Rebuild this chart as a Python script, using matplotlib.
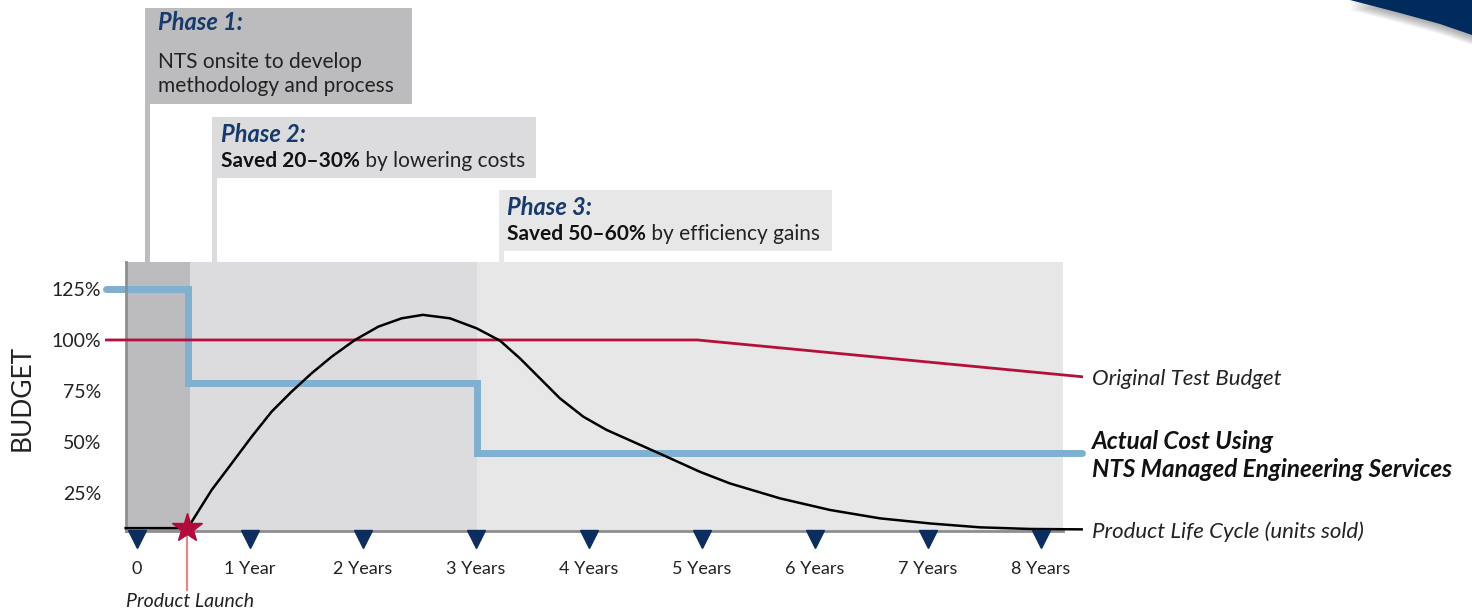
import matplotlib.pyplot as plt
from matplotlib.patches import Rectangle, Polygon

plt.rcParams['font.family'] = ['Lato', 'DejaVu Sans']

# --- data ---
years = [0, 1, 2, 3, 4, 5, 6, 7, 8]
year_labels = ['0', '1 Year', '2 Years', '3 Years', '4 Years',
               '5 Years', '6 Years', '7 Years', '8 Years']
budget_ticks = [25, 50, 75, 100, 125]
budget_labels = ['25%', '50%', '75%', '100%', '125%']

launch_year = 0.44
phase_edges = [-0.1, 0.47, 3.01, 8.2]

# actual cost using NTS (step line)
actual_x = [-0.27, 0.45, 0.45, 3.01, 3.01, 8.36]
actual_y = [125, 125, 79, 79, 44.4, 44.4]

# original test budget
budget_x = [-0.27, 4.96, 8.36]
budget_y = [100, 100, 82]

# product life cycle (units sold)
life_x = [-0.1, 0.44, 0.484, 0.661, 0.838, 1.015, 1.192, 1.369, 1.546, 1.723,
          1.929, 2.135, 2.342, 2.53, 2.77, 3.006, 3.212, 3.389, 3.566, 3.743,
          3.95, 4.157, 4.392, 4.687, 4.982, 5.248, 5.69, 6.133, 6.575, 7.018,
          7.46, 7.903, 8.36]
life_y = [7.8, 7.8, 10.9, 26.5, 39.5, 52.6, 64.9, 74.7, 83.7, 91.8,
          100, 106.5, 110.6, 112.3, 110.6, 105.7, 99.7, 91.0, 81.2, 71.4,
          62.4, 55.9, 50.1, 42.8, 35.4, 29.7, 22.4, 16.7, 12.6, 10.1,
          8.2, 7.4, 7.2]

phase_colors = ['#bcbcbe', '#dcdcde', '#e7e7e7']

W, H = 1472, 616
fig = plt.figure(figsize=(W / 100, H / 100), dpi=100)
ax = fig.add_axes([126 / W, 1 - 531 / H, (1063 - 126) / W, (531 - 262) / H])


def px(x, y):
    return (x / W, 1 - y / H)


# phase backgrounds
for i, c in enumerate(phase_colors):
    ax.axvspan(phase_edges[i], phase_edges[i + 1], color=c, lw=0, zorder=0)

ax.set_xlim(-0.097, 8.195)
ax.set_ylim(6.4, 138.2)

ax.plot(budget_x, budget_y, color='#b5103c', lw=2, clip_on=False, zorder=3)
ax.plot(life_x, life_y, color='black', lw=1.8, clip_on=False, zorder=4,
        solid_joinstyle='round')
ax.plot(actual_x, actual_y, color='#7fb0d0', lw=5, clip_on=False, zorder=2,
        solid_capstyle='round', solid_joinstyle='miter')

# launch marker
ax.plot([launch_year, launch_year], [7.6, -22.5], color='#e08a8a', lw=1.6,
        clip_on=False, zorder=5)
ax.plot([launch_year], [7.8], marker='*', ms=22, color='#b00b3b',
        mec='#b00b3b', clip_on=False, zorder=6)
ax.text(launch_year + 0.03, -27.9, 'Product Launch', style='italic',
        fontsize=14, ha='center', va='center', color='#222222')

# year triangles
ax.plot(years, [2.4] * len(years), ls='none', marker='v', ms=13,
        color='#0c2d5e', clip_on=False, zorder=5)

ax.set_xticks(years)
ax.set_xticklabels(year_labels, fontsize=13, color='#222222')
ax.set_yticks(budget_ticks)
ax.set_yticklabels(budget_labels, fontsize=14, color='#222222')
ax.tick_params(axis='x', length=0, pad=21.5)
ax.tick_params(axis='y', length=0, pad=18)
for s in ['top', 'right']:
    ax.spines[s].set_visible(False)
for s in ['left', 'bottom']:
    ax.spines[s].set_color('#8e8e90')
    ax.spines[s].set_linewidth(2)

fig.text(*px(22, 398), 'BUDGET', rotation=90, fontsize=19, ha='center',
         va='center', color='#222222')

# right-hand series labels
lx = 8.45
ax.text(lx, budget_y[-1] - 1, 'Original Test Budget', style='italic',
        fontsize=16, va='center', color='#222222', clip_on=False)
ax.text(lx, actual_y[-1] - 1, 'Actual Cost Using\nNTS Managed Engineering Services',
        style='italic', weight='bold', fontsize=17.5, va='center',
        linespacing=1.3, color='#111111', clip_on=False)
ax.text(lx, life_y[-1] - 1, 'Product Life Cycle (units sold)', style='italic',
        fontsize=16, va='center', color='#222222', clip_on=False)

# phase call-out boxes (pixel layout), kept behind the axes
navy = '#173a6c'
boxes = [
    # x0, x1, y0, y1, colour
    (145, 412, 8, 104, '#bcbcbe'),
    (212, 536, 117, 178, '#dcdcde'),
    (499, 832, 190, 251, '#e7e7e7'),
]
for (x0, x1, y0, y1, c) in boxes:
    fig.add_artist(Rectangle(px(x0, y1), (x1 - x0) / W, (y1 - y0) / H,
                             transform=fig.transFigure, color=c, lw=0,
                             zorder=-2))
    fig.add_artist(Rectangle(px(x0, 262), 5 / W, (262 - y1) / H,
                             transform=fig.transFigure, color=c, lw=0,
                             zorder=-2))

fs_t, fs_b = 17, 15
fig.text(*px(158, 30), 'Phase 1:', fontsize=fs_t, weight='bold', style='italic',
         color=navy, va='baseline')
fig.text(*px(158, 68), 'NTS onsite to develop', fontsize=fs_b, color='#222222',
         va='baseline')
fig.text(*px(158, 92), 'methodology and process', fontsize=fs_b,
         color='#222222', va='baseline')

fig.text(*px(221, 142), 'Phase 2:', fontsize=fs_t, weight='bold',
         style='italic', color=navy, va='baseline')
t2 = fig.text(*px(221, 167), 'Saved 20\u201330%', fontsize=fs_b, weight='bold',
              color='#111111', va='baseline')
ax.annotate(' by lowering costs', xy=(1, 0), xycoords=t2, va='bottom',
            fontsize=fs_b, color='#222222', annotation_clip=False)

fig.text(*px(507, 215), 'Phase 3:', fontsize=fs_t, weight='bold',
         style='italic', color=navy, va='baseline')
t3 = fig.text(*px(507, 240), 'Saved 50\u201360%', fontsize=fs_b, weight='bold',
              color='#111111', va='baseline')
ax.annotate(' by efficiency gains', xy=(1, 0), xycoords=t3, va='bottom',
            fontsize=fs_b, color='#222222', annotation_clip=False)

# navy swoosh in the top-right corner with soft shadow
edge = [(1350, 0), (1400, 13), (1440, 24), (1472, 35)]
for k in range(10, 0, -1):
    shade = [px(x, y + k) for x, y in edge] + [px(1472, 0)]
    fig.add_artist(Polygon(shade, closed=True, transform=fig.transFigure,
                           color='#555555', alpha=0.06, lw=0))
fig.add_artist(Polygon([px(x, y) for x, y in edge] + [px(1472, 0)],
                       closed=True, transform=fig.transFigure,
                       color='#002b5c', lw=0))

fig.savefig('out.png', dpi=100)
